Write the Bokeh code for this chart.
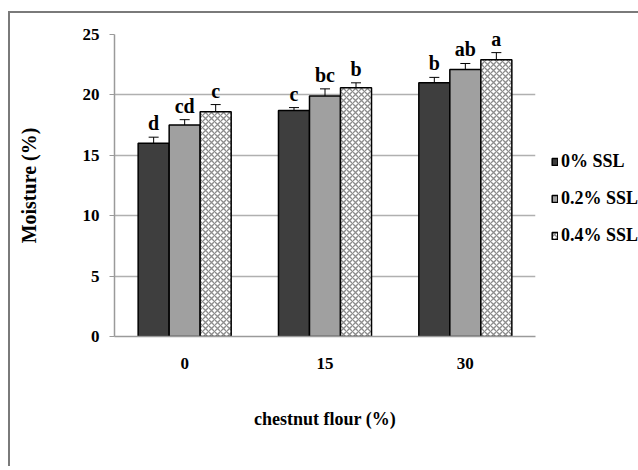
from bokeh.plotting import figure
from bokeh.models import ColumnDataSource, FactorRange, Whisker, Legend, LegendItem, TeeHead, FixedTicker
from bokeh.transform import dodge
from bokeh.core.properties import value
from bokeh.embed import file_html
from bokeh.resources import INLINE

# ---- data ----
categories = ["0", "15", "30"]
series_names = ["0% SSL", "0.2% SSL", "0.4% SSL"]
ssl_0 = [16.0, 18.7, 21.0]
ssl_02 = [17.5, 19.9, 22.1]
ssl_04 = [18.6, 20.6, 22.9]
err_0 = [0.5, 0.25, 0.45]
err_02 = [0.45, 0.6, 0.5]
err_04 = [0.6, 0.4, 0.6]
letters_0 = ["d", "c", "b"]
letters_02 = ["cd", "bc", "ab"]
letters_04 = ["c", "b", "a"]
y_ticks = [0, 5, 10, 15, 20, 25]

SERIF = "Liberation Serif"

p = figure(
    x_range=FactorRange(*categories), y_range=(0, 25),
    frame_width=421, frame_height=302, output_backend="svg", toolbar_location=None,
    min_border_left=104, min_border_right=100, min_border_top=21, min_border_bottom=130,
)
p.styles = {"border-left": "2px solid #7a7a7a", "border-top": "2px solid #7a7a7a",
            "margin-top": "11px", "margin-left": "8px"}
p.outline_line_color = None
p.background_fill_color = "white"
p.border_fill_color = "white"

series = [
    (ssl_0, err_0, letters_0, -0.221, dict(fill_color="#3e3e3e")),
    (ssl_02, err_02, letters_02, 0.0, dict(fill_color="#a0a0a0")),
    (ssl_04, err_04, letters_04, 0.221, dict(fill_color="white", hatch_pattern="diagonal_cross",
                                              hatch_color="#8c8c8c", hatch_scale=6, hatch_weight=1.3)),
]

items = []
for (vals, errs, lets, off, style), name in zip(series, series_names):
    src = ColumnDataSource(dict(
        x=categories, top=vals,
        upper=[v + e for v, e in zip(vals, errs)],
        lower=[v - e for v, e in zip(vals, errs)],
        lab=lets,
    ))
    r = p.vbar(x=dodge("x", off, range=p.x_range), top="top", width=0.221, source=src,
               line_color="black", line_width=1.5, **style)
    items.append(LegendItem(label=name, renderers=[r]))
    w = Whisker(source=src, base=dodge("x", off, range=p.x_range), upper="upper", lower="lower",
                line_color="black", line_width=1,
                upper_head=TeeHead(size=10, line_color="black", line_width=1),
                lower_head=TeeHead(size=10, line_color="black", line_width=1))
    p.add_layout(w)
    p.text(x=dodge("x", off, range=p.x_range), y="upper", text="lab", source=src,
           text_align="center", text_baseline="alphabetic", y_offset=-14,
           text_font=value(SERIF), text_font_style="bold", text_font_size="20px", text_color="black")

# axes
p.yaxis.ticker = FixedTicker(ticks=y_ticks)
p.yaxis.axis_label = "Moisture (%)"
p.xaxis.axis_label = "chestnut flour (%)"
for ax in (p.xaxis, p.yaxis):
    ax.axis_label_text_font = SERIF
    ax.axis_label_text_font_style = "bold"
    ax.major_label_text_font = SERIF
    ax.major_label_text_font_style = "bold"
    ax.major_label_text_font_size = "17px"
    ax.major_label_text_color = "black"
    ax.axis_label_text_color = "black"
    ax.axis_line_color = "#9a9a9a"
    ax.axis_line_width = 1.5
    ax.minor_tick_line_color = None
    ax.major_tick_in = 0
p.yaxis.axis_label_text_font_size = "20px"
p.xaxis.axis_label_text_font_size = "18px"
p.yaxis.major_tick_out = 5
p.yaxis.major_tick_line_color = "#9a9a9a"
p.yaxis.major_label_standoff = 10
p.yaxis.axis_label_standoff = 40
p.xaxis.major_tick_out = 0
p.xaxis.major_label_standoff = 21
p.xaxis.axis_label_standoff = 37

p.xgrid.grid_line_color = None
p.ygrid.grid_line_color = "#b0b0b0"
p.ygrid.grid_line_width = 1.5

legend = Legend(items=items, location=(16, 90), orientation="vertical",
                glyph_width=7, glyph_height=9, label_standoff=3, spacing=16,
                label_height=20, padding=0, margin=0, border_line_color=None,
                background_fill_alpha=0,
                label_text_font=SERIF, label_text_font_style="bold",
                label_text_font_size="18px", label_text_color="black")
p.add_layout(legend, "right")

open("out.html", "w").write(file_html(p, INLINE))
